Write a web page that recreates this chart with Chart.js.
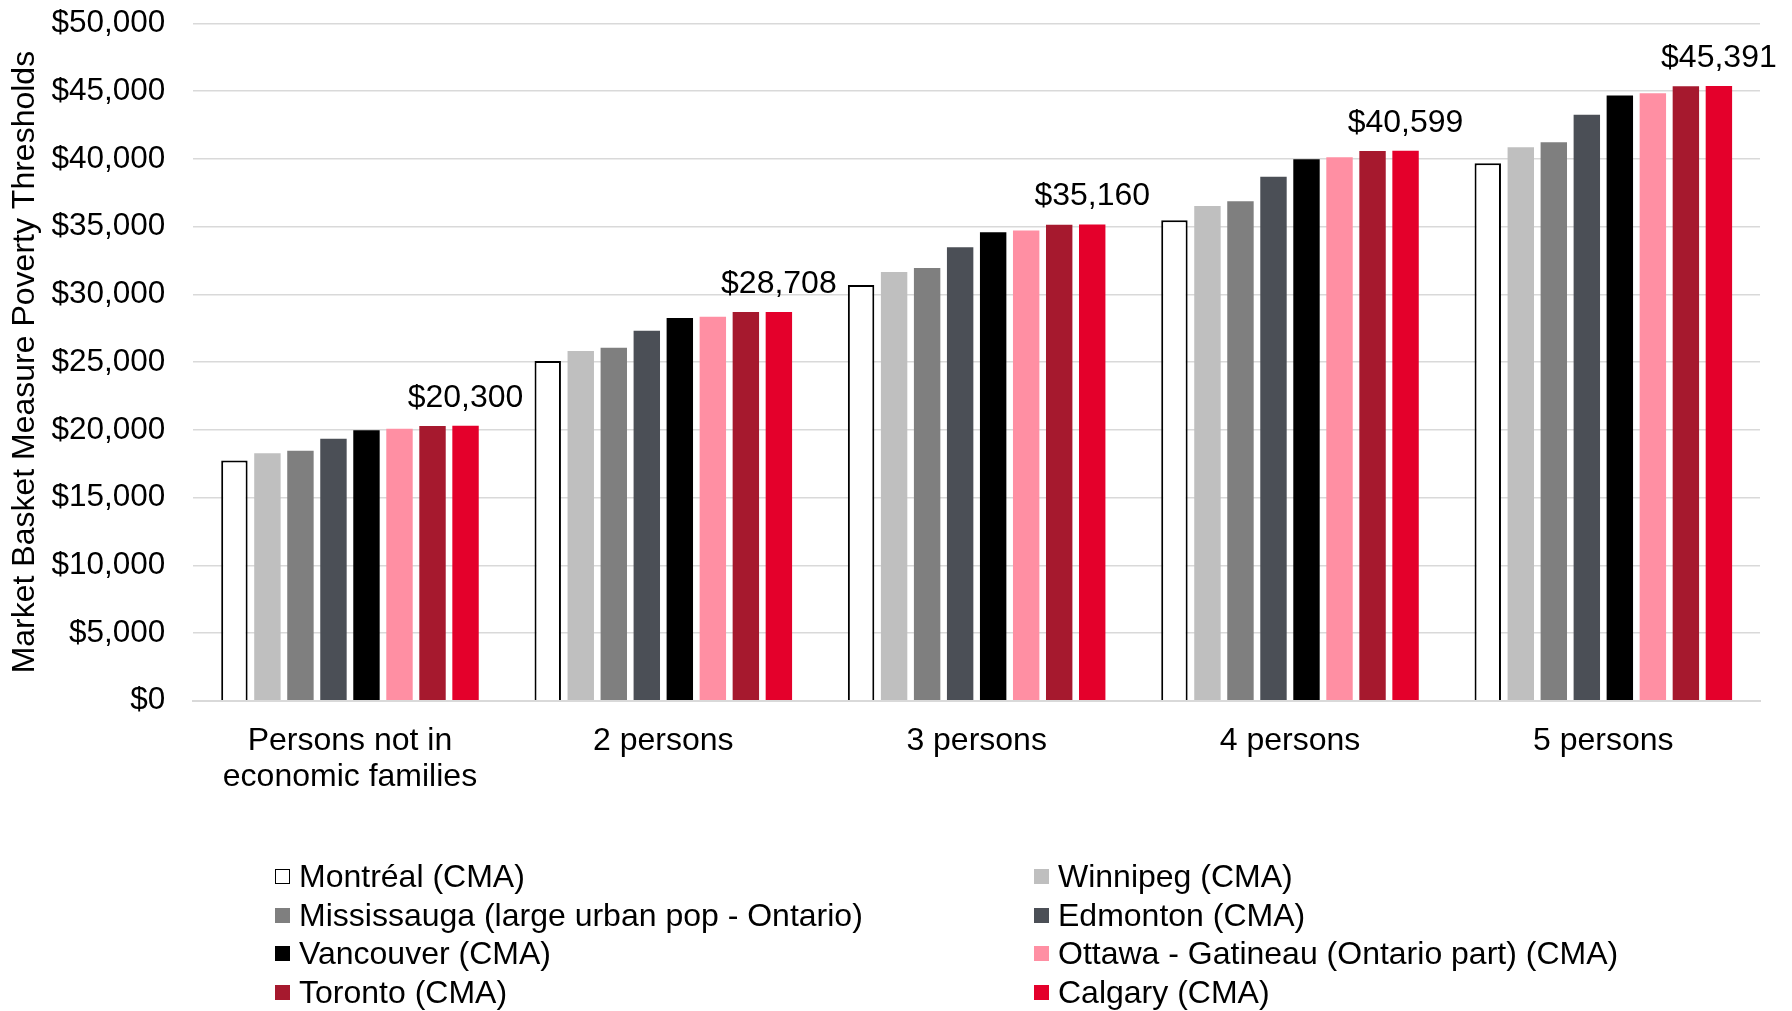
<!DOCTYPE html>
<html>
<head>
<meta charset="utf-8">
<script src="https://cdn.jsdelivr.net/npm/chart.js@4"></script>
<style>
  body { margin: 0; background: #fff; }
  #wrap { position: relative; width: 1792px; height: 1011px; overflow: hidden; }
  #legend {
    position: absolute; left: 275px; top: 857px;
    display: grid; grid-template-columns: 759px auto; grid-auto-rows: 38.8px;
    font: 32px "Liberation Sans", Arial, sans-serif; color: #000;
  }
  .item { display: flex; align-items: center; white-space: nowrap; }
  .box { width: 15px; height: 15px; margin-right: 9px; box-sizing: border-box; }
</style>
</head>
<body>
<div id="wrap">
  <canvas id="mbm" width="1792" height="1011"></canvas>
  <div id="legend"></div>
</div>
<script>
const FONT = "'Liberation Sans', Arial, sans-serif";

const categories = [["Persons not in", "economic families"], "2 persons", "3 persons", "4 persons", "5 persons"];
const yTicks = [0, 5000, 10000, 15000, 20000, 25000, 30000, 35000, 40000, 45000, 50000];

const montreal    = [17740, 25085, 30685, 35475, 39675];
const winnipeg    = [18275, 25820, 31645, 36530, 40855];
const mississauga = [18455, 26065, 31940, 36875, 41225];
const edmonton    = [19335, 27320, 33485, 38690, 43255];
const vancouver   = [19970, 28255, 34590, 39970, 44685];
const ottawa      = [20075, 28350, 34710, 40120, 44855];
const toronto     = [20290, 28690, 35145, 40585, 45375];
const calgary     = [20300, 28708, 35160, 40599, 45391];

const money = v => "$" + v.toLocaleString("en-US");

const series = [
  { label: "Montréal (CMA)", data: montreal, color: "#ffffff", border: "#000000", bw: 2 },
  { label: "Winnipeg (CMA)", data: winnipeg, color: "#bfbfbf" },
  { label: "Mississauga (large urban pop - Ontario)", data: mississauga, color: "#7f7f7f" },
  { label: "Edmonton (CMA)", data: edmonton, color: "#4b4f56" },
  { label: "Vancouver (CMA)", data: vancouver, color: "#000000" },
  { label: "Ottawa - Gatineau (Ontario part) (CMA)", data: ottawa, color: "#ff8fa3" },
  { label: "Toronto (CMA)", data: toronto, color: "#a6192e" },
  { label: "Calgary (CMA)", data: calgary, color: "#e4002b" }
];

// value label above the last bar of each group
const topLabels = {
  id: "topLabels",
  afterDatasetsDraw(chart) {
    const meta = chart.getDatasetMeta(chart.data.datasets.length - 1);
    const ctx = chart.ctx;
    ctx.save();
    ctx.font = "32px " + FONT;
    ctx.fillStyle = "#000";
    ctx.textAlign = "center";
    ctx.textBaseline = "alphabetic";
    meta.data.forEach((bar, i) => {
      ctx.fillText(money(calgary[i]), bar.x, bar.y - 19);
    });
    ctx.restore();
  }
};

const chart = new Chart(document.getElementById("mbm"), {
  type: "bar",
  data: {
    labels: categories,
    datasets: series.map(s => ({
      label: s.label,
      data: s.data,
      backgroundColor: s.color,
      borderColor: s.border || s.color,
      borderWidth: s.bw || 0,
      categoryPercentage: 0.843,
      barPercentage: 0.8
    }))
  },
  options: {
    responsive: false,
    animation: false,
    devicePixelRatio: 1,
    layout: { padding: { top: 0, right: 32, left: 0, bottom: 0 } },
    plugins: { legend: { display: false }, tooltip: { enabled: false } },
    scales: {
      x: {
        grid: { display: false },
        border: { color: "#d9d9d9", width: 2 },
        ticks: { color: "#000", font: { family: FONT, size: 32, lineHeight: 1.14 }, padding: 14, maxRotation: 0, autoSkip: false },
        afterFit: s => { s.height = 310.3; }
      },
      y: {
        min: 0, max: 50000,
        afterBuildTicks: s => { s.ticks = yTicks.map(v => ({ value: v })); },
        grid: { color: "#d9d9d9", lineWidth: 1.5, drawTicks: false },
        border: { display: false },
        ticks: { color: "#000", font: { family: FONT, size: 31.5 }, padding: 28, callback: v => money(v) },
        title: {
          display: true, text: "Market Basket Measure Poverty Thresholds",
          color: "#000", font: { family: FONT, size: 32 }, padding: { top: 6, bottom: 0 }
        },
        afterFit: s => { s.width = 193.3; s.paddingTop = 23.5; }
      }
    }
  },
  plugins: [topLabels]
});

const legend = document.getElementById("legend");
chart.data.datasets.forEach(ds => {
  const item = document.createElement("div");
  item.className = "item";
  const box = document.createElement("span");
  box.className = "box";
  box.style.background = ds.backgroundColor;
  if (ds.borderWidth) box.style.border = "1.5px solid " + ds.borderColor;
  const txt = document.createElement("span");
  txt.textContent = ds.label;
  item.appendChild(box);
  item.appendChild(txt);
  legend.appendChild(item);
});
</script>
</body>
</html>
